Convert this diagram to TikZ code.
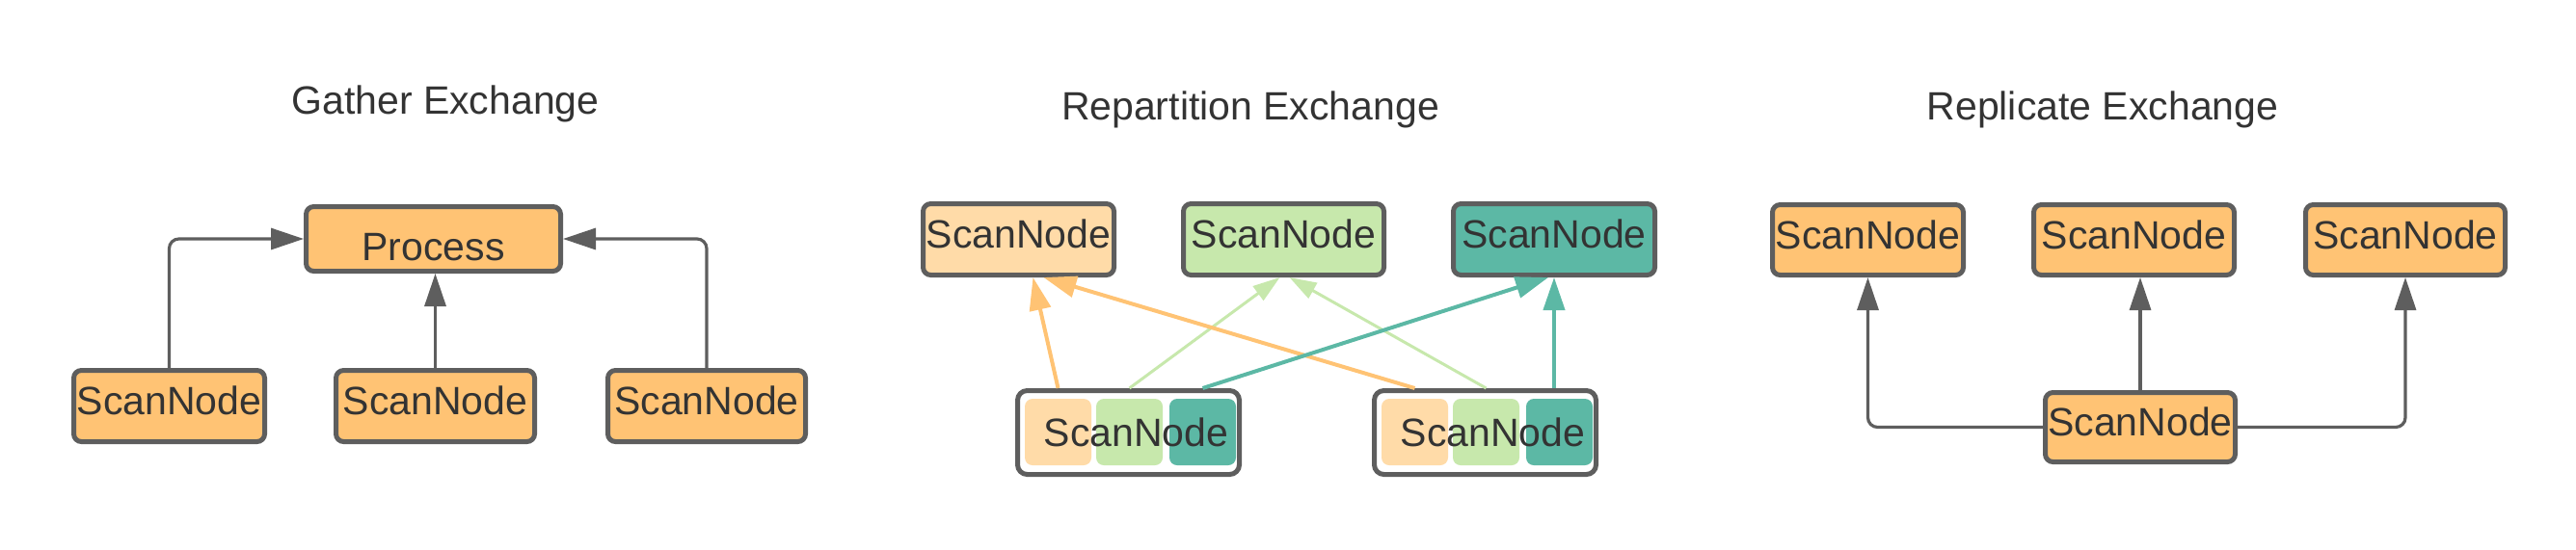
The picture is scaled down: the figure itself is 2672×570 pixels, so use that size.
\documentclass[tikz,border=0pt]{standalone}
\usepackage{fontspec}
\usetikzlibrary{arrows.meta}
\newfontfamily\labfont{Liberation Sans}
\newcommand\lab{\labfont\fontsize{20.5}{24}\selectfont}
\definecolor{orangefill}{HTML}{FFC374}
\definecolor{lorange}{HTML}{FFDBA8}
\definecolor{lgreen}{HTML}{C7E8AC}
\definecolor{teal}{HTML}{5CB8A5}
\definecolor{bordergray}{HTML}{5E5E5E}
\definecolor{txt}{HTML}{333333}
\tikzset{
  box/.style={draw=bordergray, line width=2.5pt, rounded corners=4pt, inner sep=0pt,
    font=\lab, text=txt, minimum height=37pt, text height=9pt, text depth=0pt},
  procbox/.style={box, minimum height=33.5pt, text height=22pt},
  compbox/.style={draw=bordergray, line width=2.5pt, rounded corners=5pt, inner sep=0pt,
    fill=white, minimum width=115pt, minimum height=43.5pt},
  cell/.style={inner sep=0pt, rounded corners=4pt, minimum width=34.5pt, minimum height=34.5pt},
  lbl/.style={inner sep=0pt, font=\lab, text=txt},
  title/.style={inner sep=0pt, font=\lab, text=txt},
  grayarrow/.style={draw=bordergray, line width=1.6pt, rounded corners=5pt,
    -{Triangle[length=17pt,width=11pt]}, fill=none},
  orarrow/.style={draw=orangefill, line width=2pt, -{Triangle[length=17pt,width=11pt]}},
  grarrow/.style={draw=lgreen, line width=1.5pt, -{Triangle[length=14pt,width=9pt]}},
  tlarrow/.style={draw=teal, line width=2pt, -{Triangle[length=17pt,width=11pt]}},
}
\begin{document}
\begin{tikzpicture}[x=0.5pt,y=-0.5pt]
\useasboundingbox (0,0) rectangle (2672,570);
% ---------- Gather Exchange ----------
\node[title] (tg) at (462,108) {Gather Exchange};
\node[procbox, fill=orangefill, minimum width=132pt] (proc) at (449.5,248) {Process};
\node[box, fill=orangefill, minimum width=99pt] (g1) at (175.5,421.5) {ScanNode};
\node[box, fill=orangefill, minimum width=103pt] (g2) at (451.5,421.5) {ScanNode};
\node[box, fill=orangefill, minimum width=102.5pt] (g3) at (733,421.5) {ScanNode};
\draw[grayarrow] (g1.north) |- (proc.west);
\draw[grayarrow] (g3.north) |- (proc.east);
\draw[grayarrow] (g2.north) -- (g2.north |- proc.south);
% ---------- Repartition Exchange ----------
\node[title] (tr) at (1297,114) {Repartition Exchange};
\node[box, fill=lorange, minimum width=99pt] (r1) at (1056.5,248.5) {ScanNode};
\node[box, fill=lgreen, minimum width=104pt] (r2) at (1331.5,248.5) {ScanNode};
\node[box, fill=teal, minimum width=104.5pt] (r3) at (1612,248.5) {ScanNode};
\node[compbox] (c1) at (1170.5,449) {};
\node[cell, fill=lorange] (c1o) at (1097.5,448.5) {};
\node[cell, fill=lgreen] (c1g) at (1171.5,448.5) {};
\node[cell, fill=teal] (c1t) at (1247.5,448.5) {};
\node[lbl] (c1l) at (1178.5,449) {ScanNode};
\node[compbox] (c2) at (1540.5,449) {};
\node[cell, fill=lorange] (c2o) at (1467.5,448.5) {};
\node[cell, fill=lgreen] (c2g) at (1541.5,448.5) {};
\node[cell, fill=teal] (c2t) at (1617.5,448.5) {};
\node[lbl] (c2l) at (1548.5,449) {ScanNode};
\draw[grarrow] (c1g.center |- c1.north) -- ([xshift=-2pt]r2.south);
\draw[grarrow] (c2g.center |- c2.north) -- ([xshift=3pt]r2.south);
\draw[orarrow] (c2o.center |- c2.north) -- ([xshift=13pt]r1.south);
\draw[orarrow] (c1o.center |- c1.north) -- ([xshift=7.5pt]r1.south);
\draw[tlarrow] (c1t.center |- c1.north) -- ([xshift=-3pt]r3.south);
\draw[tlarrow] (r3.south |- c2.north) -- (r3.south);
% ---------- Replicate Exchange ----------
\node[title] (tp) at (2181,114) {Replicate Exchange};
\node[box, fill=orangefill, minimum width=99pt, minimum height=36.5pt] (p1) at (1937.5,249) {ScanNode};
\node[box, fill=orangefill, minimum width=104pt, minimum height=36.5pt] (p2) at (2213.5,249) {ScanNode};
\node[box, fill=orangefill, minimum width=103.5pt, minimum height=36.5pt] (p3) at (2495,249) {ScanNode};
\node[box, fill=orangefill, minimum width=98.5pt, minimum height=36pt] (p0) at (2220,443.5) {ScanNode};
\draw[grayarrow] (p0.west) -| (p1.south);
\draw[grayarrow] (p0.east) -| (p3.south);
\draw[grayarrow] (p0.north) -- (p0.north |- p2.south);
\end{tikzpicture}
\end{document}
